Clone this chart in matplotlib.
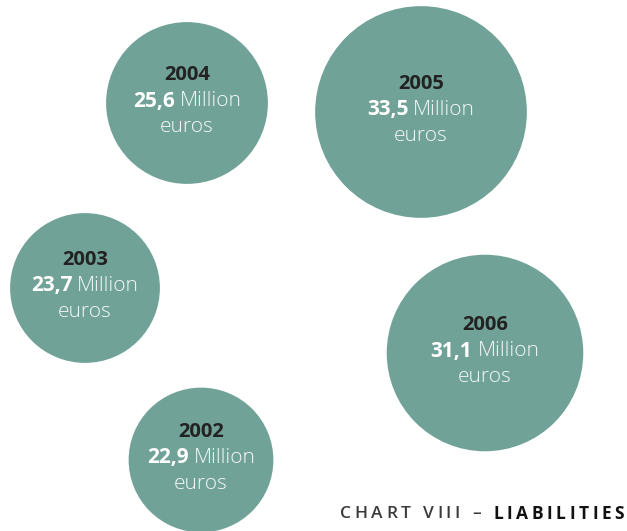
import matplotlib
matplotlib.use("Agg")
import matplotlib.pyplot as plt
from matplotlib.patches import Circle

years = ["2002", "2003", "2004", "2005", "2006"]
values = [22.9, 23.7, 25.6, 33.5, 31.1]
value_labels = ["22,9", "23,7", "25,6", "33,5", "31,1"]
unit_word = "Million"
unit_line = "euros"
title_regular = "CHART VIII – "
title_bold = "LIABILITIES"

# layout (pixel positions of bubble centres)
centers = [(201, 460), (85, 288), (187, 103), (421, 112), (485, 353)]
scale = 3.16  # radius in px per million
color = "#71a298"
FONT = "Open Sans"

fig = plt.figure(figsize=(6.27, 5.31), dpi=100)
ax = fig.add_axes([0, 0, 1, 1])
ax.set_xlim(0, 627)
ax.set_ylim(531, 0)
ax.set_aspect("equal")
ax.axis("off")

for (cx, cy), v in zip(centers, values):
    ax.add_patch(Circle((cx, cy), v * scale, color=color, lw=0))

fig.canvas.draw()
rend = fig.canvas.get_renderer()

def width(s, **kw):
    t = ax.text(0, 0, s, **kw)
    w = t.get_window_extent(rend).width
    t.remove()
    return w

fs = 15
for (cx, cy), y, lab in zip(centers, years, value_labels):
    ax.text(cx, cy - 28, y, ha="center", va="center", fontsize=fs - 0.5,
            fontweight="bold", color="#222222", family=FONT)
    w1 = width(lab, fontsize=fs, fontweight="bold", family=FONT)
    w2 = width(unit_word, fontsize=fs, fontweight="light", family=FONT)
    gap = 5
    x0 = cx - (w1 + gap + w2) / 2
    ax.text(x0, cy - 2, lab, ha="left", va="center", fontsize=fs,
            fontweight="bold", color="white", family=FONT)
    ax.text(x0 + w1 + gap, cy - 2, unit_word, ha="left", va="center",
            fontsize=fs, fontweight="light", color="#f4f8f7", family=FONT)
    ax.text(cx, cy + 24, unit_line, ha="center", va="center", fontsize=fs,
            fontweight="light", color="#f4f8f7", family=FONT)

# title with letter spacing
tfs = 12.5
chars = [(c, "semibold", "#3a3a3a") for c in title_regular] + \
        [(c, "bold", "#111111") for c in title_bold]
ws = []
for c, wt, col in chars:
    if c == " ":
        ws.append(width("n", fontsize=tfs, fontweight=wt, family=FONT) * 0.5)
    else:
        ws.append(width(c, fontsize=tfs, fontweight=wt, family=FONT))
x_start, x_end = 340, 624
track = (x_end - x_start - sum(ws)) / (len(chars) - 1)
x = x_start
for (c, wt, col), w in zip(chars, ws):
    if c != " ":
        ax.text(x, 514, c, ha="left", va="center", fontsize=tfs,
                fontweight=wt, color=col, family=FONT)
    x += w + track

fig.savefig("out.png", dpi=100)
